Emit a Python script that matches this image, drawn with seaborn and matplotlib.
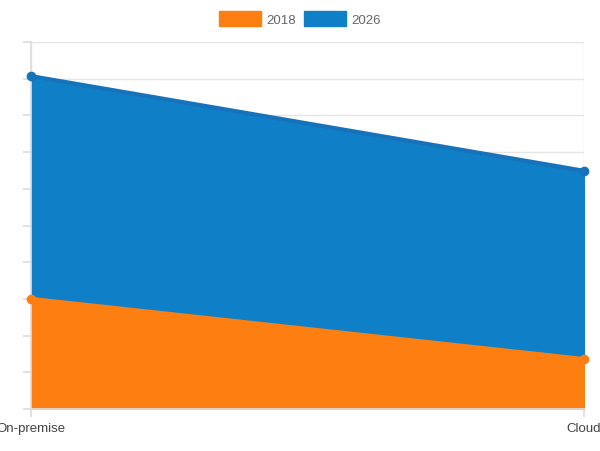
import matplotlib
matplotlib.use("Agg")
import matplotlib.pyplot as plt
import seaborn as sns
import numpy as np
from matplotlib.patches import Patch

categories = ["On-premise", "Cloud"]
series_names = ["2018", "2026"]
values_2018 = [3.0, 1.36]
values_2026 = [6.07, 5.13]

sns.set_theme(style="white")
plt.rcParams['font.family'] = ['Liberation Sans', 'DejaVu Sans']

fig = plt.figure(figsize=(6, 4.52), dpi=100)
ax = fig.add_axes([31/600, 42/452, 553/600, 367/452])
x = np.arange(len(categories))
y1 = np.array(values_2018)
y2 = y1 + np.array(values_2026)
c1, c2 = "#fd7f11", "#0f7fc8"
ax.fill_between(x, 0, y1, color=c1, zorder=2)
ax.fill_between(x, y1, y2, color=c2, zorder=2)
sns.lineplot(x=x, y=y1, ax=ax, color=c1, lw=3, marker="o", markersize=7, markeredgewidth=0, zorder=5, clip_on=False)
sns.lineplot(x=x, y=y2, ax=ax, color="#1673bb", lw=3, marker="o", markersize=7, markeredgewidth=0, zorder=5, clip_on=False)
ax.set_xlim(0, 1)
ax.set_ylim(0, 10)
ax.set_yticks(np.arange(0, 11, 1))
ax.set_yticklabels([])
ax.set_xticks(x)
ax.set_xticklabels(categories, fontsize=9.5, color="#444444")
ax.tick_params(axis="y", length=6, color="#dddddd", left=True)
ax.tick_params(axis="x", length=6, color="#dddddd", bottom=True)
ax.grid(axis="y", color="#e5e5e5", lw=1, zorder=0)
ax.grid(axis="x", color="#e5e5e5", lw=1, zorder=0)
for s in ["top", "right"]:
    ax.spines[s].set_visible(False)
for s in ["left", "bottom"]:
    ax.spines[s].set_color("#dddddd")
ax.set_xlabel(""); ax.set_ylabel("")
leg = fig.legend(handles=[Patch(color=c1, label=series_names[0]), Patch(color=c2, label=series_names[1])],
                 loc="upper center", bbox_to_anchor=(0.5, 1.0), ncol=2, frameon=False,
                 handlelength=3.2, handleheight=1.4, fontsize=9.5, columnspacing=0.6, handletextpad=0.4)
for t in leg.get_texts():
    t.set_color("#666666")
fig.savefig("out.png", dpi=100)
